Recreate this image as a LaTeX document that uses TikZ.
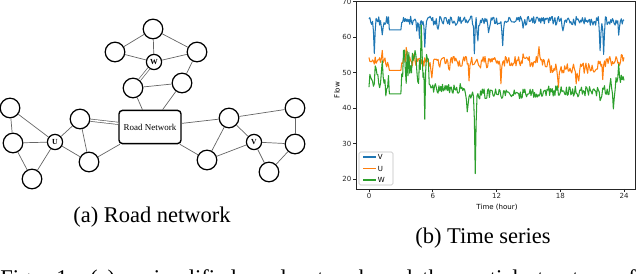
\documentclass[tikz,border=0pt]{standalone}
\usepackage{fontspec}
\setmainfont{Liberation Serif}
\setsansfont{DejaVu Sans}

\definecolor{vblue}{HTML}{1F77B4}
\definecolor{uorange}{HTML}{FF7F0E}
\definecolor{wgreen}{HTML}{2CA02C}

\tikzset{
  junc/.style={circle,draw,line width=0.9pt,minimum size=0.49cm,inner sep=0pt},
  hub/.style={circle,draw,line width=0.9pt,minimum size=0.38cm,inner sep=0pt,font=\fontsize{5.5}{6}\selectfont\bfseries},
  road/.style={draw=black!60,line width=0.5pt},
  dbl/.style={road,double=white,double distance=1.1pt},
  tick/.style={font=\sffamily\fontsize{5}{6}\selectfont,inner sep=1pt},
  flow/.style={line width=0.75pt,line join=round},
  declare function={
    dip(\h,\c)=max(0,1-abs(\h-\c)/0.12);
    vflow(\h)=(\h>1.85 && \h<3) ? 62 : 64.6+1.3*rand-8*dip(\h,0.5)-5*dip(\h,1.25)-4*dip(\h,4.5)-5*dip(\h,4.75)-8*dip(\h,5.25)-3*dip(\h,6.5)-9*dip(\h,9.917)-7*dip(\h,10.25)-4*dip(\h,11.25)-6*dip(\h,12.583)-3*dip(\h,14.5)-4*dip(\h,18.25)-9*dip(\h,21.75)-9*dip(\h,22.083)-3*dip(\h,23.5);
    uflow(\h)=(\h>1.85 && \h<3) ? 50.6 : 53+1.5*rand+4*dip(\h,3.5)+3*dip(\h,4.25)+2*dip(\h,1.25)-5*dip(\h,5.917)-3*dip(\h,7.5)-6*dip(\h,9.417)-3*dip(\h,10.5)-2*dip(\h,11.083)-6*dip(\h,12.417)+4*dip(\h,16)+2*dip(\h,14.5)-5*dip(\h,17.833)-4*dip(\h,19.75)-3*dip(\h,19.5)-5*dip(\h,22)+2*dip(\h,23.75)-((\h>17 && \h<21.5) ? 1.8 : 0);
    wflow(\h)=(\h>1.85 && \h<3) ? 44 : ((\h<1.85) ? 47+2.5*rand+8*dip(\h,1.25)+6*dip(\h,0.583)-3*dip(\h,1.583) : ((\h<5.6) ? 51.5+5*rand+14*dip(\h,4.917)+6*dip(\h,3.75)-10*dip(\h,5.25) : 44+1.5*rand+((\h<9) ? 1.5 : 0)+((\h>16) ? 0.8 : 0)-5*dip(\h,9.25)-24*dip(\h,10)-3*dip(\h,19.667)-4*dip(\h,21.75)-5*dip(\h,23)+4*dip(\h,23.5)+3*dip(\h,22.75)+((\h>23.2) ? 3 : 0)));
  }
}

\begin{document}
\begin{tikzpicture}[x=0.025cm,y=-0.025cm]
\useasboundingbox (0,0) rectangle (640,274);
\clip (0,0) rectangle (640,274);
\pgfmathsetseed{3}

\node[draw,rounded corners=2.5pt,line width=1pt,minimum width=1.55cm,minimum height=0.83cm,inner sep=0pt,font=\fontsize{6.4}{7}\selectfont] (net) at (150,127) {Road Network};
\node[junc] (wtop) at (153,29) {};
\node[junc] (wleft) at (115,52) {};
\node[hub] (wnode) at (154,62) {W};
\node[junc] (wright) at (197,52) {};
\node[junc] (wlow1) at (133,88) {};
\node[junc] (wlow2) at (182,83) {};
\node[junc] (ua) at (10,108) {};
\node[junc] (ub) at (13,143) {};
\node[hub] (u) at (55,142) {U};
\node[junc] (uc) at (32,179) {};
\node[junc] (ud) at (80,119) {};
\node[junc] (ue) at (89,162) {};
\node[junc] (va) at (229,118) {};
\node[junc] (vb) at (295,108) {};
\node[hub] (v) at (254,142) {V};
\node[junc] (vc) at (295,144) {};
\node[junc] (vd) at (207,160) {};
\node[junc] (ve) at (269,172) {};
\foreach \a/\b in {wtop/wleft,wtop/wnode,wtop/wright,wleft/wnode,wnode/wright,wright/wlow2,wlow1/wlow2,wlow1/net,wlow2/net,
  ua/ub,ua/u,ub/u,ub/uc,u/uc,u/ud,u/ue,ud/ue,ue/net,net/va,net/vd,va/vb,va/v,va/vd,vd/v,v/vc,v/ve,vb/vc,vc/ve}
  \draw[road] (\a) -- (\b);
\draw[dbl] (wnode) -- (wlow1);
\draw[dbl] (ud) -- (net);
\node[font=\fontsize{16}{18}\selectfont] (capa) at (152,217) {(a) Road network};

\draw[vblue,flow] plot[domain=0:24,samples=289] ({369+10.625*\x},{179-3.55*(vflow(\x)-20)});
\draw[uorange,flow] plot[domain=0:24,samples=289] ({369+10.625*\x},{179-3.55*(uflow(\x)-20)});
\draw[wgreen,flow] plot[domain=0:24,samples=289] ({369+10.625*\x},{179-3.55*(wflow(\x)-20)});
\draw[black!85,line width=0.6pt] (356,1) rectangle (635,189);
\foreach \v in {20,30,...,70} {
  \pgfmathsetmacro\yy{179-3.55*(\v-20)}
  \draw[black!85,line width=0.5pt] (356,\yy) -- (353,\yy) node[left,tick] {\v};
}
\foreach \t in {0,6,12,18,24} {
  \pgfmathsetmacro\xx{369+10.625*\t}
  \draw[black!85,line width=0.5pt] (\xx,189) -- (\xx,192) node[below,tick] {\t};
}
\node[tick,rotate=90] (flowlab) at (337,90) {Flow};
\node[tick] (timelab) at (497,207) {Time (hour)};
\draw[black!25,fill=white,fill opacity=0.85,rounded corners=1pt] (359,152) rectangle (393,185);
\foreach \c/\n/\yy in {vblue/V/157,uorange/U/168.5,wgreen/W/180}
  \draw[\c,flow] (363,\yy) -- (376,\yy) node[right,tick,text=black] {\n};
\node[font=\fontsize{16}{18}\selectfont] (capb) at (483,238) {(b) Time series};

\node[anchor=base west,inner sep=0pt,font=\fontsize{16}{18}\selectfont] (figcap) at (0,286)
  {\makebox[452pt][s]{Fig. 1: (a) a simplified road network and the spatial structure of}};
\end{tikzpicture}
\end{document}
